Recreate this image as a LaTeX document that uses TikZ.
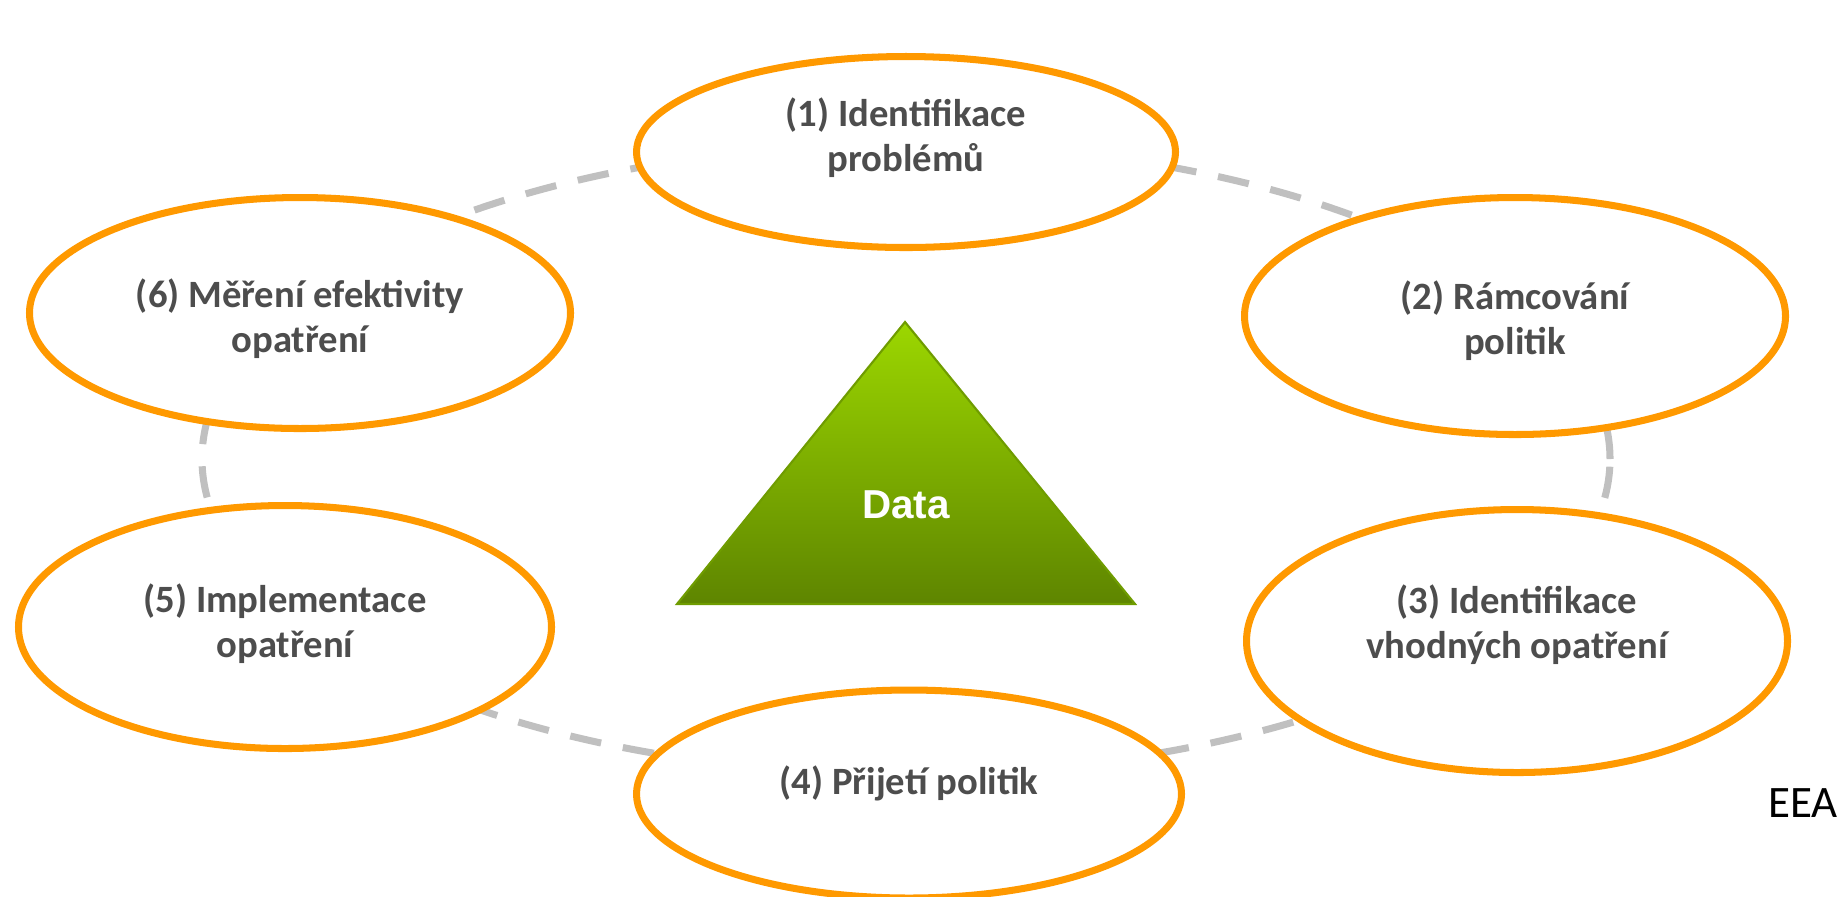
\documentclass[tikz,border=0pt]{standalone}
\usepackage{fontspec}
\setmainfont{Carlito}
\newfontfamily\arialfont{Liberation Sans}
\usetikzlibrary{shapes.geometric}
\definecolor{stageorange}{HTML}{FF9900}
\definecolor{stagetext}{HTML}{4D4D4D}
\definecolor{cyclegray}{HTML}{C0C0C0}
\definecolor{datatop}{HTML}{9CD700}
\definecolor{databottom}{HTML}{5E8500}
\definecolor{dataedge}{HTML}{6F9C00}
\begin{document}
\begin{tikzpicture}[x=0.1mm,y=-0.1mm]
        \tikzset{stage/.style={draw=stageorange, line width=2pt, fill=white, ellipse, inner sep=0pt},
        stagelabel/.style={align=center, text=stagetext, inner sep=0pt, font=\fontsize{11}{12.8}\selectfont\bfseries},
        cycle/.style={draw=cyclegray, line width=2pt, dash pattern=on 9pt off 6.3pt}
        }
        \useasboundingbox (0,0) rectangle (1844,896);
%% dashed cycle behind the stages
        \coordinate (hub) at (906,459);
        \draw[cycle] (hub) ellipse [x radius=70.4mm, y radius=31.5mm];
%% stages
        \node [stage, minimum width=53.9mm, minimum height=19.1mm] (problem) at (906,152) {};
        \node [stage, minimum width=54.1mm, minimum height=23.7mm] (framing) at (1515,316) {};
        \node [stage, minimum width=54.1mm, minimum height=26.3mm] (measures) at (1517,641) {};
        \node [stage, minimum width=54.5mm, minimum height=20.8mm] (adoption) at (909,794) {};
        \node [stage, minimum width=53.3mm, minimum height=24.3mm] (implement) at (285,627) {};
        \node [stage, minimum width=54.1mm, minimum height=23.1mm] (evaluate) at (300,313) {};
%% stage texts
        \node [stagelabel] (problemtext) at ([yshift=1.4mm]problem.center) {(1) Identifikace\\problémů};
        \node [stagelabel] (framingtext) at ([yshift=-0.5mm]framing.center) {(2) Rámcování\\politik};
        \node [stagelabel] (measurestext) at ([yshift=1.6mm]measures.center) {(3) Identifikace\\vhodných opatření};
        \node [stagelabel] (adoptiontext) at ([yshift=1.1mm]adoption.center) {(4) Přijetí politik};
        \node [stagelabel] (implementtext) at ([yshift=0.3mm]implement.center) {(5) Implementace\\opatření};
        \node [stagelabel] (evaluatetext) at ([yshift=-0.6mm]evaluate.center) {(6) Měření efektivity\\opatření};
%% data triangle
        \coordinate (apex) at (905,322);
        \coordinate (baseleft) at (677,604);
        \coordinate (baseright) at (1135,604);
        \shade[top color=datatop, bottom color=databottom, draw=dataedge, line width=0.6pt]
            (apex) -- (baseleft) -- (baseright) -- cycle;
        \node [font=\arialfont\bfseries\fontsize{11.5}{13}\selectfont, text=white] (data) at (906,505) {Data};
%% source
        \node [font=\fontsize{12.8}{14}\selectfont] (eea) at (1803,803) {EEA};
    \end{tikzpicture}
\end{document}
